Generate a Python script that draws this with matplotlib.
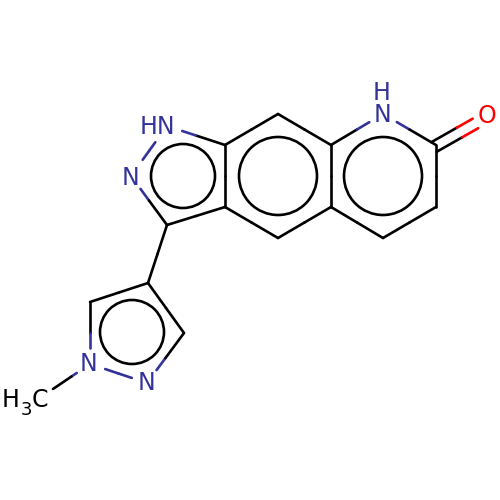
import numpy as np
import matplotlib
matplotlib.use("Agg")
import matplotlib.pyplot as plt
from matplotlib.patches import Circle

# atoms: name, x, y, element
atom_names = ["C3","C3a","C7a","N1","N2","C8","C8a","C4a","C4","N9","C10","C11","C12",
              "C4p","C5p","N1p","N2p","C3p","Me","O"]
atom_x = [167,225,225,167,131,278,331,331,278,383,436,436,383,148,90,90,147,184,53,487]
atom_y = [225,207,145,126,176,114,145,207,238,114,145,207,238,283,302,364,383,333,389,116]
atom_el = ["C","C","C","N","N","C","C","C","C","N","C","C","C","C","C","N","N","C","Me","O"]

bonds = [("C3","C3a"),("C3a","C7a"),("C7a","N1"),("N1","N2"),("N2","C3"),
         ("C7a","C8"),("C8","C8a"),("C8a","C4a"),("C4a","C4"),("C4","C3a"),
         ("C8a","N9"),("N9","C10"),("C10","C11"),("C11","C12"),("C12","C4a"),
         ("C3","C4p"),("C4p","C5p"),("C5p","N1p"),("N1p","N2p"),("N2p","C3p"),("C3p","C4p"),
         ("N1p","Me")]
double_bonds = [("C10","O")]

# aromatic circles: centre x, y, radius
ring_x = [183, 278, 383, 132]
ring_y = [176, 176, 176, 332]
ring_r = [32, 39, 39, 32]

# labels: text, x, y, size
label_text = ["HN", "N", "N", "H", "O", "N", "N", "H", "3", "C"]
label_x = [157, 130, 382, 382, 487, 89, 147, 11, 26, 40]
label_y = [127, 178, 115, 93, 116, 364, 383, 400, 410, 400]
label_size = [17, 17, 17, 17, 17, 17, 17, 17, 13, 17]
label_color = ["#333399"]*4 + ["#FF0000"] + ["#333399"]*2 + ["#000000"]*3

pos = {n: np.array([x, y], float) for n, x, y in zip(atom_names, atom_x, atom_y)}
el = dict(zip(atom_names, atom_el))
col = {"C": "#000000", "N": "#333399", "O": "#FF0000", "Me": "#000000"}
gap_el = {"C": 0, "N": 16, "O": 11, "Me": 0}
gap_nn = 20
LW = 1.9

fig = plt.figure(figsize=(5, 5), dpi=100)
ax = fig.add_axes([0, 0, 1, 1])
ax.set_xlim(0, 500)
ax.set_ylim(500, 0)
ax.axis("off")


def half_bond(a, b, shift=(0, 0)):
    p, q = pos[a] + shift, pos[b] + shift
    m = (p + q) / 2
    u = (q - p) / np.linalg.norm(q - p)
    ga, gb = gap_el[el[a]], gap_el[el[b]]
    if (a, b) == ("N1", "N2"):
        ga, gb = gap_nn, gap_nn
    s = p + u * ga
    e = q - u * gb
    ax.plot([s[0], m[0]], [s[1], m[1]], color=col[el[a]], lw=LW, solid_capstyle="round")
    ax.plot([m[0], e[0]], [m[1], e[1]], color=col[el[b]], lw=LW, solid_capstyle="round")


for a, b in bonds:
    half_bond(a, b)

for a, b in double_bonds:
    u = pos[b] - pos[a]
    u = u / np.linalg.norm(u)
    n = np.array([-u[1], u[0]])
    centre = np.array([-2.0, 2.0])
    half_bond(a, b, centre + n * 5.5)
    half_bond(a, b, centre - n * 5.5)

for x, y, r in zip(ring_x, ring_y, ring_r):
    ax.add_patch(Circle((x, y), r, fill=False, ec="#000000", lw=LW))

for t, x, y, c, s in zip(label_text, label_x, label_y, label_color, label_size):
    ax.text(x, y, t, color=c, fontsize=s, family="DejaVu Sans", ha="center", va="center")

fig.savefig("out.png", dpi=100)
